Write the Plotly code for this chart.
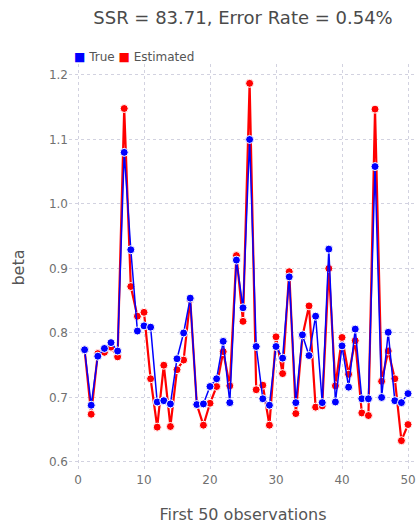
import plotly.graph_objects as go

# Observation index and the two beta series (true vs. estimated)
obs = list(range(1, 51))

beta_true = [
    0.774, 0.688, 0.764, 0.776, 0.785, 0.772, 1.080, 0.929, 0.803, 0.811,
    0.809, 0.693, 0.695, 0.690, 0.760, 0.800, 0.854, 0.689, 0.690, 0.717,
    0.729, 0.787, 0.692, 0.913, 0.839, 1.100, 0.779, 0.698, 0.688, 0.779,
    0.761, 0.887, 0.692, 0.797, 0.765, 0.826, 0.692, 0.930, 0.693, 0.780,
    0.716, 0.806, 0.698, 0.698, 1.058, 0.700, 0.801, 0.695, 0.692, 0.706,
]

beta_est = [
    0.774, 0.674, 0.768, 0.770, 0.778, 0.763, 1.148, 0.872, 0.826, 0.832,
    0.729, 0.654, 0.750, 0.655, 0.743, 0.758, 0.852, 0.689, 0.657, 0.691,
    0.717, 0.771, 0.718, 0.920, 0.818, 1.187, 0.712, 0.719, 0.657, 0.794,
    0.737, 0.895, 0.675, 0.795, 0.842, 0.685, 0.687, 0.900, 0.718, 0.793,
    0.736, 0.788, 0.676, 0.672, 1.147, 0.725, 0.772, 0.729, 0.633, 0.658,
]

x_ticks = [0, 10, 20, 30, 40, 50]
y_ticks = [0.6, 0.7, 0.8, 0.9, 1.0, 1.1, 1.2]

BLUE = "#0000ff"
RED = "#ff0000"
FONT = "DejaVu Sans"

fig = go.Figure()

# Estimated first so the true series sits on top
fig.add_trace(go.Scatter(
    x=obs, y=beta_est, name="Estimated", mode="lines+markers",
    line=dict(color=RED, width=2.2),
    marker=dict(color=RED, size=8, line=dict(color="white", width=1)),
    showlegend=False,
))
fig.add_trace(go.Scatter(
    x=obs, y=beta_true, name="True", mode="lines+markers",
    line=dict(color=BLUE, width=1.5),
    marker=dict(color=BLUE, size=8, line=dict(color="white", width=1)),
    showlegend=False,
))

grid = dict(showgrid=True, gridcolor="#d2d2e0", griddash="dot", gridwidth=1,
            zeroline=False, showline=False, ticks="",
            tickfont=dict(family=FONT, size=12, color="#707070"))

fig.update_layout(
    width=419, height=525,
    margin=dict(l=69, r=2, t=64, b=54),
    paper_bgcolor="white", plot_bgcolor="white",
    font=dict(family=FONT, color="#555555"),
    title=dict(text="SSR = 83.71, Error Rate = 0.54%",
               font=dict(family=FONT, size=18, color="#4a4a4a"),
               x=0.5, xref="paper", xanchor="center",
               y=1, yref="container", yanchor="top", pad=dict(t=11)),
    xaxis=dict(range=[-1.364, 51.36], tickvals=x_ticks,
               title=dict(text="First 50 observations",
                          font=dict(family=FONT, size=16, color="#555555"),
                          standoff=22),
               **grid),
    yaxis=dict(range=[0.586, 1.217], tickvals=y_ticks,
               tickformat=".1f",
               title=dict(text="beta",
                          font=dict(family=FONT, size=16, color="#555555"),
                          standoff=20),
               **grid),
    showlegend=False,
)

# Horizontal legend above the plot area
fig.add_annotation(
    xref="paper", yref="paper", x=0, y=1, xanchor="left", yanchor="middle",
    xshift=3, yshift=7, showarrow=False,
    text=(f'<span style="color:{BLUE}">■</span> True '
          f'<span style="color:{RED}">■</span> Estimated'),
    font=dict(family=FONT, size=12, color="#555555"),
)

fig.write_html("out.html")
